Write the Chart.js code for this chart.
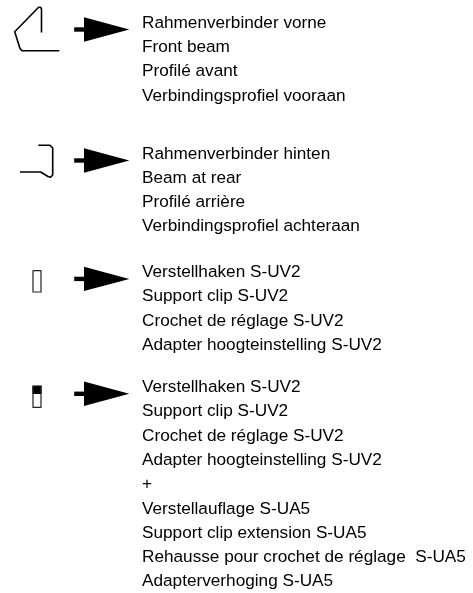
<!DOCTYPE html>
<html lang="en">

<head>
    <meta charset="UTF-8" />
    <title>Rahmenverbinder</title>
    <script src="https://cdn.jsdelivr.net/npm/chart.js@4/dist/chart.umd.js"></script>
    <style>
        html, body { margin: 0; padding: 0; background: #fff; }
        #wrap { width: 473px; height: 593px; }
    </style>
</head>

<body>
    <div id="wrap"><canvas id="legendChart" width="473" height="593"></canvas></div>

    <script>
        // profile outlines, in drawing units (x right, y down)
        const frontBeam = [[41.5, 32.5], [41.5, 9], [40.5, 7.2], [38.6, 7.2], [14.7, 31.7], [20, 48.5], [22, 50.7], [59.3, 50.7]];
        const rearBeam = [[38.3, 145.3], [50, 145.3], [52.7, 148], [52.7, 175], [50.5, 177.3], [48, 176.5], [40.7, 172], [20, 172]];
        const clipBox = [[33, 270.7], [33, 292], [41, 292], [41, 270.7], [33, 270.7]];
        const clipBox2 = [[33, 386], [33, 407.4], [41, 407.4], [41, 386], [33, 386]];
        const clipTop = [[32.4, 385.7], [32.4, 394], [41.6, 394], [41.6, 385.7], [32.4, 385.7]];

        // one arrow at each group
        const arrowY = [29.5, 160.5, 278.9, 393.8];
        const arrowShaft = [74.2, 85];
        const arrowHead = [84, 129.3];
        const arrowHalf = 12.2;

        const groupBaseline = [27.6, 158.5, 277, 392];
        const lineStep = 24.3;
        const groupLines = [
            ['Rahmenverbinder vorne', 'Front beam', 'Profilé avant', 'Verbindingsprofiel vooraan'],
            ['Rahmenverbinder hinten', 'Beam at rear', 'Profilé arrière', 'Verbindingsprofiel achteraan'],
            ['Verstellhaken S-UV2', 'Support clip S-UV2', 'Crochet de réglage S-UV2', 'Adapter hoogteinstelling S-UV2'],
            ['Verstellhaken S-UV2', 'Support clip S-UV2', 'Crochet de réglage S-UV2', 'Adapter hoogteinstelling S-UV2', '+',
                'Verstellauflage S-UA5', 'Support clip extension S-UA5', 'Rehausse pour crochet de réglage  S-UA5', 'Adapterverhoging S-UA5']
        ];
        const textX = 142;

        function pts(list) {
            return list.map(p => ({ x: p[0], y: p[1] }));
        }

        function outline(list, width, color) {
            return { data: pts(list), borderColor: color, borderWidth: width, borderJoinStyle: 'round', pointRadius: 0, fill: false, tension: 0 };
        }

        const datasets = [outline(frontBeam, 1.6, '#000'), outline(rearBeam, 1.6, '#000'), outline(clipBox, 1.2, '#222'), outline(clipBox2, 1.2, '#222')];
        datasets.push({ data: pts(clipTop), borderColor: '#000', backgroundColor: '#000', borderWidth: 0, pointRadius: 0, fill: 'shape' });

        arrowY.forEach(y => {
            datasets.push({ data: pts([[arrowShaft[0], y], [arrowShaft[1], y]]), borderColor: '#000', borderWidth: 4.4, pointRadius: 0, fill: false });
            datasets.push({
                data: pts([[arrowHead[0], y - arrowHalf], [arrowHead[1], y], [arrowHead[0], y + arrowHalf], [arrowHead[0], y - arrowHalf]]),
                borderColor: '#000', backgroundColor: '#000', borderWidth: 0, pointRadius: 0, fill: 'shape'
            });
        });

        // captions are real text placed through the scales
        const captionPlugin = {
            id: 'captions',
            afterDatasetsDraw(chart) {
                const { ctx, scales } = chart;
                ctx.save();
                ctx.fillStyle = '#000';
                ctx.font = '17.2px "Liberation Sans", sans-serif';
                ctx.textBaseline = 'alphabetic';
                groupLines.forEach((lines, g) => {
                    lines.forEach((line, i) => {
                        ctx.fillText(line, scales.x.getPixelForValue(textX), scales.y.getPixelForValue(groupBaseline[g] + i * lineStep));
                    });
                });
                ctx.restore();
            }
        };

        new Chart(document.getElementById('legendChart').getContext('2d'), {
            type: 'line',
            data: { datasets: datasets },
            plugins: [captionPlugin],
            options: {
                responsive: false,
                animation: false,
                layout: { padding: 0 },
                plugins: { legend: { display: false }, tooltip: { enabled: false } },
                scales: {
                    x: { type: 'linear', display: false, min: 0, max: 473 },
                    y: { type: 'linear', display: false, min: 0, max: 593, reverse: true }
                }
            }
        });
    </script>
</body>

</html>
